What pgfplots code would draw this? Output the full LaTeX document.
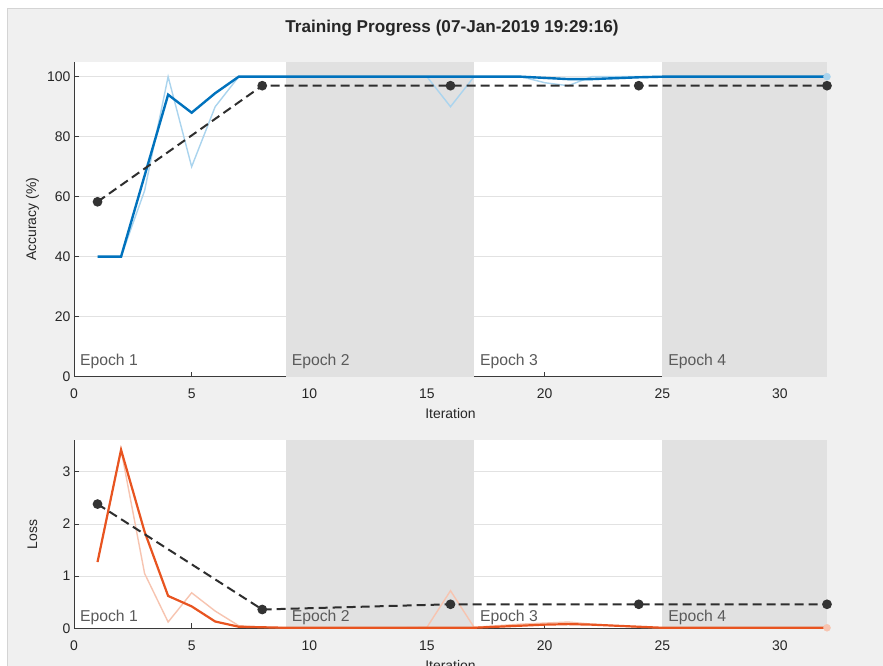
\documentclass[border=0pt]{standalone}
\usepackage{pgfplots}
\pgfplotsset{compat=1.18}
\usepackage{fontspec}
\setmainfont{Liberation Sans}
\definecolor{figbg}{HTML}{F0F0F0}
\definecolor{framegray}{HTML}{D4D4D4}
\definecolor{shadegray}{HTML}{E1E1E1}
\definecolor{gridgray}{HTML}{E2E2E2}
\definecolor{axisgray}{HTML}{3A3A3A}
\definecolor{tickgray}{HTML}{262626}
\definecolor{epochgray}{HTML}{5A5A5A}
\definecolor{accdark}{RGB}{0,114,189}
\definecolor{acclight}{RGB}{170,212,238}
\definecolor{lossdark}{RGB}{232,84,32}
\definecolor{losslight}{RGB}{247,196,176}
\definecolor{valgray}{HTML}{2E2E2E}
\definecolor{markgray}{HTML}{333333}

\pgfplotstableread{
it acc accs loss losss
1 40 40 1.27 1.27
2 40 40 3.42 3.42
3 62 67 1.05 1.85
4 100 94 0.12 0.62
5 70 88 0.68 0.42
6 90 94.5 0.33 0.13
7 100 100 0.05 0.03
8 100 100 0.02 0.02
9 100 100 0.01 0.01
10 100 100 0.01 0.01
11 100 100 0.01 0.01
12 100 100 0.01 0.01
13 100 100 0.01 0.01
14 100 100 0.01 0.01
15 100 100 0.02 0.01
16 90 100 0.72 0.01
17 100 100 0.02 0.01
18 100 100 0.05 0.03
19 100 100 0.08 0.05
20 98 99.6 0.10 0.07
21 97 99.2 0.12 0.08
22 100 99.2 0.08 0.07
23 100 99.5 0.05 0.05
24 100 99.8 0.02 0.03
25 100 100 0.01 0.01
26 100 100 0.01 0.01
27 100 100 0.01 0.01
28 100 100 0.01 0.01
29 100 100 0.01 0.01
30 100 100 0.01 0.01
31 100 100 0.01 0.01
32 100 100 0.01 0.01
}\trainingdata

\pgfplotstableread{
it acc loss
1 58.3 2.38
8 97.0 0.36
16 97.0 0.46
24 97.0 0.46
32 97.0 0.46
}\valdata

\tikzset{
  epoch/.style={anchor=base west, inner sep=0pt, font=\fontsize{15.8}{18}\selectfont, text=epochgray},
  valstyle/.style={color=valgray, line width=2bp, dash pattern=on 9bp off 5bp,
    mark=*, mark size=3.8bp, mark options={solid, fill=markgray, draw=markgray}},
}

\pgfplotsset{
  tpaxis/.style={
    scale only axis,
    width=753bp,
    xmin=0, xmax=32, ymin=0,
    enlargelimits=false,
    axis background/.style={fill=white},
    axis x line*=bottom, axis y line*=left,
    axis line style={-, color=axisgray, line width=0.8bp},
    xtick={0,5,...,30},
    tick align=inside,
    major tick length=5bp,
    tick style={color=axisgray, line width=0.8bp},
    ymajorgrids,
    grid style={gridgray, line width=0.7bp},
    ticklabel style={font=\fontsize{14}{16}\selectfont, text=tickgray},
    xticklabel style={yshift=-9bp},
    /pgf/number format/assume math mode=true,
    label style={font=\fontsize{14}{16}\selectfont, text=tickgray},
    xlabel style={at={(axis description cs:0.5,0)}, anchor=center, yshift=-37bp},
    ylabel style={at={(axis description cs:0,0.5)}, anchor=center, yshift=41.5bp},
    clip=false,
  },
}

\begin{document}
\begin{tikzpicture}
\clip (0,0) rectangle (883bp,666bp);
\fill[white] (0,0) rectangle (883bp,666bp);
\fill[figbg] (7bp,0) rectangle (883bp,658bp);
\draw[framegray, line width=1bp] (7.5bp,0) -- (7.5bp,657.5bp) -- (883bp,657.5bp);
\node[font=\bfseries\fontsize{17.2}{20}\selectfont, text=tickgray] at (452bp,638bp) {Training Progress (07-Jan-2019 19:29:16)};

% ---------- Accuracy ----------
\begin{axis}[tpaxis,
  at={(74bp,289.3bp)}, anchor=south west,
  height=315bp, ymax=105,
  ytick={0,20,...,100},
  xlabel={Iteration}, ylabel={Accuracy (\%)}]
\addplot[fill=shadegray, draw=none] coordinates {(9,105) (17,105)} \closedcycle;
\addplot[fill=shadegray, draw=none] coordinates {(25,105) (32,105)} \closedcycle;
\addplot[acclight, line width=1.4bp] table[x=it, y=acc] {\trainingdata};
\addplot[accdark, line width=2.4bp] table[x=it, y=accs] {\trainingdata};
\addplot[only marks, mark=*, mark size=3.5bp, acclight] coordinates {(32,100)};
\addplot[valstyle] table[x=it, y=acc] {\valdata};
\node[epoch] at (axis cs:0.25,3.6) {Epoch 1};
\node[epoch] at (axis cs:9.25,3.6) {Epoch 2};
\node[epoch] at (axis cs:17.25,3.6) {Epoch 3};
\node[epoch] at (axis cs:25.25,3.6) {Epoch 4};
\end{axis}

% ---------- Loss ----------
\begin{axis}[tpaxis,
  at={(74bp,37.7bp)}, anchor=south west,
  height=187.9bp, ymax=3.6,
  ytick={0,1,2,3},
  xlabel={Iteration}, ylabel={Loss}]
\addplot[fill=shadegray, draw=none] coordinates {(9,3.6) (17,3.6)} \closedcycle;
\addplot[fill=shadegray, draw=none] coordinates {(25,3.6) (32,3.6)} \closedcycle;
\addplot[losslight, line width=1.4bp] table[x=it, y=loss] {\trainingdata};
\addplot[lossdark, line width=2.2bp] table[x=it, y=losss] {\trainingdata};
\addplot[only marks, mark=*, mark size=3.5bp, losslight] coordinates {(32,0.01)};
\addplot[valstyle] table[x=it, y=loss] {\valdata};
\node[epoch] at (axis cs:0.25,0.127) {Epoch 1};
\node[epoch] at (axis cs:9.25,0.127) {Epoch 2};
\node[epoch] at (axis cs:17.25,0.127) {Epoch 3};
\node[epoch] at (axis cs:25.25,0.127) {Epoch 4};
\end{axis}
\end{tikzpicture}
\end{document}
